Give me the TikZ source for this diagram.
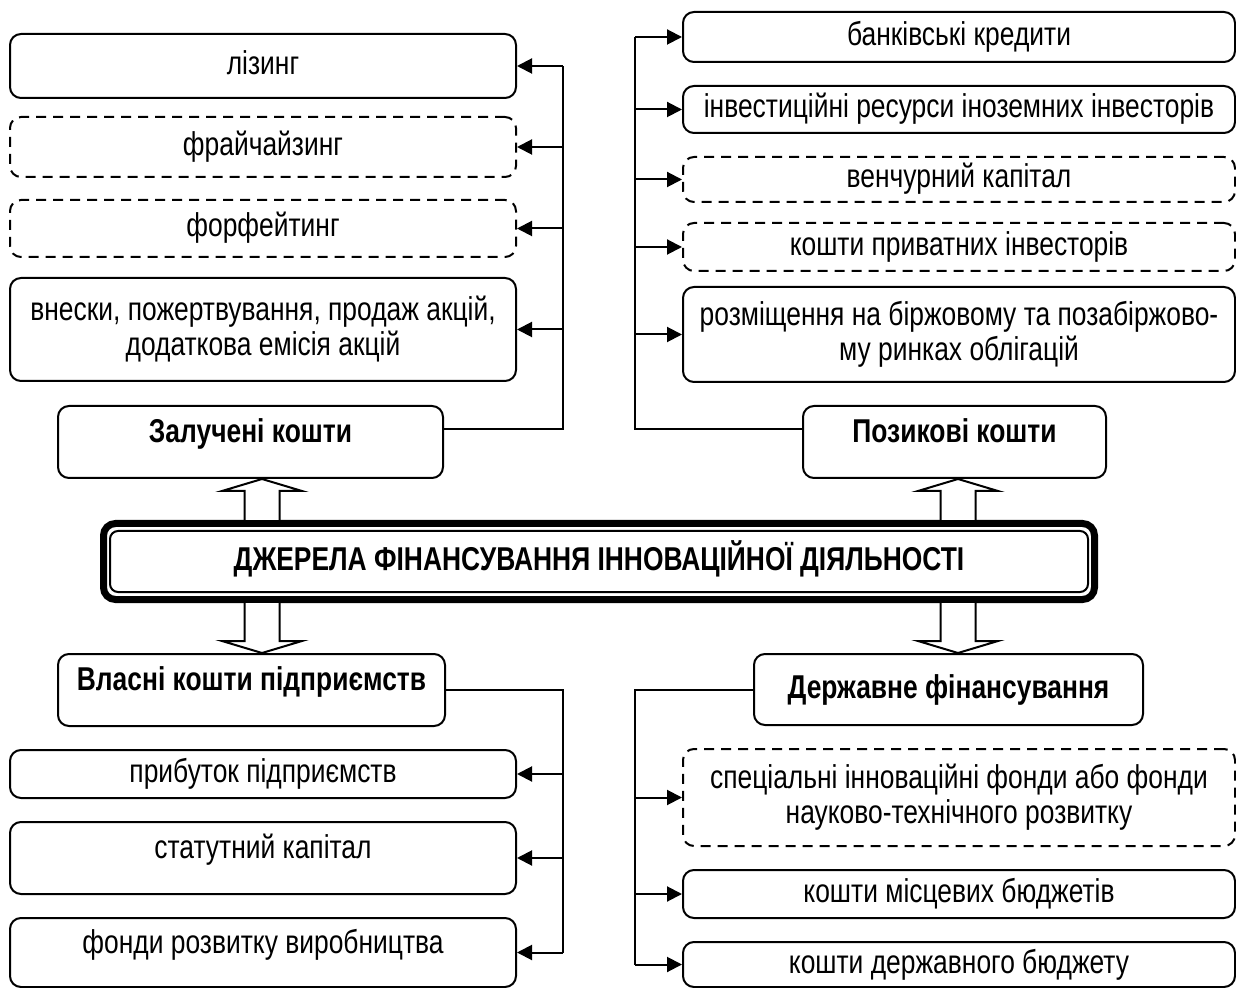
\documentclass[tikz,border=0pt]{standalone}
\usepackage{fontspec}
\setmainfont{Liberation Sans}[FakeStretch = 0.8]
\usepackage{tikz}
\usetikzlibrary{positioning, arrows.meta, calc}
\tikzstyle{sheet} = [x = .5pt, y = -.5pt]
\tikzstyle{sourceStyle} = [draw, line width = 1pt, rounded corners = 5.5pt, align = center, inner sep = 0pt, font = \fontsize{16.5}{17.5}\selectfont]
\tikzstyle{dashedSource} = [sourceStyle, dash pattern = on 5pt off 3.5pt]
\tikzstyle{groupStyle} = [sourceStyle, font = \fontsize{16.5}{17.5}\selectfont\bfseries]
\tikzstyle{coreStyle} = [draw, line width = 3.5pt, rounded corners = 6pt, inner sep = 0pt, font = \fontsize{16.5}{17.5}\selectfont\bfseries]
\tikzstyle{innerLine} = [line width = 1pt, rounded corners = 4pt]
\tikzstyle{oneLine} = [text height = 12pt, text depth = 3.5pt]
\tikzstyle{raised} = [text height = 12pt, text depth = 11.5pt]
\tikzstyle{trunkLine} = [line width = 1pt]
\tikzstyle{feedLine} = [line width = 1pt, -{Triangle[length = 7.5pt, width = 7.5pt]}]
\tikzstyle{hollowArrowStyle} = [draw, fill = white, line width = 1pt]
\newcommand{\sourceBox}[7]{\node [#6, minimum width = (#4 - #2) * .5pt, minimum height = (#5 - #3) * .5pt] (#1) at ({(#2 + #4) / 2}, {(#3 + #5) / 2}) {#7};}
\newcommand{\hollowArrow}[3]{
  \coordinate (arrowFrom) at (#1 -| #3);
  \coordinate (arrowTo) at (#2 -| #3);
  \coordinate (arrowNeck) at ($(arrowTo)!6pt!(arrowFrom)$);
  \filldraw [hollowArrowStyle] ([xshift = -8.75pt]arrowFrom) -- ([xshift = -8.75pt]arrowNeck) -- ([xshift = -20pt]arrowNeck) -- (arrowTo) -- ([xshift = 20pt]arrowNeck) -- ([xshift = 8.75pt]arrowNeck) -- ([xshift = 8.75pt]arrowFrom);
}
\begin{document}
\begin{tikzpicture}[sheet]
  \useasboundingbox (0,0) rectangle (1236,988);
  % attracted funds
  \sourceBox{leasing}{10}{34}{516}{98}{sourceStyle, oneLine}{лізинг}
  \sourceBox{franchise}{10}{117}{516}{177}{dashedSource, oneLine}{фрайчайзинг}
  \sourceBox{forfeit}{10}{200}{516}{257}{dashedSource, oneLine}{форфейтинг}
  \sourceBox{shares}{10}{278}{516}{381}{sourceStyle}{внески, пожертвування, продаж акцій,\\додаткова емісія акцій}
  \sourceBox{attracted}{58}{406}{443}{478}{groupStyle, raised}{Залучені кошти}
  % borrowed funds
  \sourceBox{bankLoans}{683}{12}{1235}{62}{sourceStyle, oneLine}{банківські кредити}
  \sourceBox{foreign}{683}{86}{1235}{133}{sourceStyle, oneLine}{інвестиційні ресурси іноземних інвесторів}
  \sourceBox{venture}{683}{157}{1235}{202}{dashedSource, oneLine}{венчурний капітал}
  \sourceBox{private}{683}{223}{1235}{271}{dashedSource, oneLine}{кошти приватних інвесторів}
  \sourceBox{bonds}{683}{287}{1235}{382}{sourceStyle}{розміщення на біржовому та позабіржово-\\му ринках облігацій}
  \sourceBox{borrowed}{803}{406}{1106}{478}{groupStyle, raised}{Позикові кошти}
  % own funds
  \sourceBox{own}{58}{654}{445}{726}{groupStyle, raised}{Власні кошти підприємств}
  \sourceBox{profit}{10}{750}{516}{798}{sourceStyle, oneLine}{прибуток підприємств}
  \sourceBox{charter}{10}{822}{516}{894}{sourceStyle, raised}{статутний капітал}
  \sourceBox{prodFunds}{10}{918}{516}{987}{sourceStyle, raised}{фонди розвитку виробництва}
  % state funding
  \sourceBox{state}{754}{654}{1143}{725}{groupStyle, oneLine}{Державне фінансування}
  \sourceBox{special}{683}{749}{1235}{846}{dashedSource}{спеціальні інноваційні фонди або фонди\\науково-технічного розвитку}
  \sourceBox{localBudget}{683}{870}{1235}{918}{sourceStyle, oneLine}{кошти місцевих бюджетів}
  \sourceBox{stateBudget}{683}{942}{1235}{987}{sourceStyle, oneLine}{кошти державного бюджету}

  % core and block arrows
  \sourceBox{core}{103.5}{523.5}{1094.5}{599.5}{coreStyle, oneLine}{ДЖЕРЕЛА ФІНАНСУВАННЯ ІННОВАЦІЙНОЇ ДІЯЛЬНОСТІ}
  \draw [innerLine] ([shift = {(10, 11)}]core.north west) rectangle ([shift = {(-10, -11)}]core.south east);
  \coordinate (leftAxis) at (262, 0);
  \coordinate (rightAxis) at (958, 0);
  \hollowArrow{core.north}{attracted.south}{leftAxis}
  \hollowArrow{core.north}{borrowed.south}{rightAxis}
  \hollowArrow{core.south}{own.north}{leftAxis}
  \hollowArrow{core.south}{state.north}{rightAxis}

  \coordinate (leftTrunk) at (563, 0);
  \coordinate (rightTrunk) at (635, 0);
  \draw [trunkLine] ([yshift = 6.5pt]attracted.east) -| (leasing.east -| leftTrunk);
  \foreach \target in {leasing, franchise, forfeit, shares}
    \draw [feedLine] (\target.east -| leftTrunk) -- (\target.east);
  \draw [trunkLine] ([yshift = 6.5pt]borrowed.west) -| (bankLoans.west -| rightTrunk);
  \foreach \target in {bankLoans, foreign, venture, private, bonds}
    \draw [feedLine] (\target.west -| rightTrunk) -- (\target.west);
  \draw [trunkLine] (own.east) -| (prodFunds.east -| leftTrunk);
  \foreach \target in {profit, charter, prodFunds}
    \draw [feedLine] (\target.east -| leftTrunk) -- (\target.east);
  \draw [trunkLine] (state.west) -| (stateBudget.west -| rightTrunk);
  \foreach \target in {special, localBudget, stateBudget}
    \draw [feedLine] (\target.west -| rightTrunk) -- (\target.west);
\end{tikzpicture}
\end{document}
